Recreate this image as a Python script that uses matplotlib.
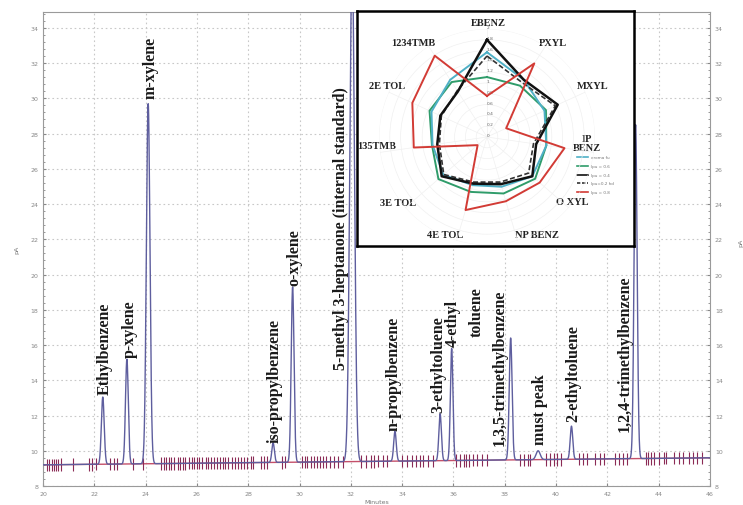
import numpy as np
import matplotlib
matplotlib.use("Agg")
import matplotlib.pyplot as plt
from matplotlib.lines import Line2D

# ---------------------------------------------------------------- chromatogram data
peak_names = ["Ethylbenzene", "p-xylene", "m-xylene", "iso-propylbenzene", "o-xylene",
              "5-methyl 3-heptanone (internal standard)", "n-propylbenzene",
              "3-ethyltoluene", "4-ethyltoluene", "1,3,5-trimethylbenzene",
              "must peak", "2-ethyltoluene", "1,2,4-trimethylbenzene"]
peak_rt = [22.33, 23.27, 24.10, 28.97, 29.73, 32.05, 33.72,
           35.48, 35.93, 38.23, 39.30, 40.60, 43.10]
peak_top = [13.05, 15.2, 29.7, 10.45, 19.3, 38.0, 11.1,
            12.1, 15.8, 16.4, 10.0, 11.4, 28.5]
peak_sigma = [0.055, 0.055, 0.07, 0.05, 0.055, 0.09, 0.05,
              0.05, 0.05, 0.055, 0.08, 0.05, 0.06]

baseline_start, baseline_end = 9.2, 9.6

# integration event marks along the baseline (minutes)
event_marks = [20.15, 20.25, 20.35, 20.42, 20.5, 20.6, 20.7, 21.15, 21.8, 21.9, 22.05,
               22.6, 22.75, 22.9, 23.5, 23.9,
               24.6, 24.7, 24.8, 24.9, 25.0, 25.1, 25.25, 25.35, 25.45, 25.55, 25.7,
               25.8, 25.9, 26.0, 26.1, 26.2, 26.35, 26.45, 26.55, 26.65, 26.8, 26.9,
               27.0, 27.1, 27.2, 27.35, 27.5, 27.6, 27.7, 27.85, 27.95, 28.1, 28.2,
               28.5, 28.6, 28.75, 29.3, 29.45,
               30.1, 30.2, 30.3, 30.45, 30.55, 30.7, 30.8, 30.9, 31.05, 31.2, 31.35,
               31.5, 31.7,
               32.4, 32.6, 32.8, 32.9, 33.05, 33.25, 33.4, 34.0, 34.2, 34.4, 34.55,
               34.7, 34.8, 35.0, 35.2,
               36.1, 36.25, 36.4, 36.5, 36.6, 36.75, 36.9, 37.1, 37.3,
               38.6, 38.75, 38.9, 39.0, 39.6, 39.75, 39.9, 40.05, 40.2, 40.9, 41.05,
               41.2, 41.5, 41.7, 41.85, 42.3, 42.45, 42.6, 42.75,
               43.5, 43.6, 43.7, 43.8, 44.0, 44.2, 44.3, 44.6, 44.8, 44.95, 45.2,
               45.35, 45.5, 45.7]

# label anchors: (x minutes, bottom of text in pA)
label_text = ["Ethylbenzene", "p-xylene", "m-xylene", "iso-propylbenzene", "o-xylene",
              "5-methyl 3-heptanone (internal standard)", "n-propylbenzene",
              "3-ethyltoluene", "4-ethyl", "toluene", "1,3,5-trimethylbenzene",
              "must peak", "2-ethyltoluene", "1,2,4-trimethylbenzene"]
label_x = [22.4, 23.38, 24.2, 29.02, 29.78, 31.6, 33.65,
           35.4, 35.98, 36.92, 37.82, 39.38, 40.66, 42.69]
label_y = [13.2, 15.3, 30.0, 10.5, 19.4, 14.65, 11.2,
           12.2, 15.95, 16.5, 10.3, 10.4, 11.7, 11.1]

# ---------------------------------------------------------------- radar data
radar_axes = ["EBENZ", "PXYL", "MXYL", "IP\nBENZ", "O XYL", "NP BENZ",
              "4E TOL", "3E TOL", "135TMB", "2E TOL", "1234TMB"]
series_cyan = [1.57, 1.26, 1.17, 1.11, 1.11, 0.96, 0.93, 1.07, 1.02, 1.13, 1.26]
series_green = [1.11, 1.13, 1.20, 1.11, 1.18, 1.09, 1.06, 1.19, 1.03, 1.17, 1.21]
series_black = [1.80, 1.26, 1.44, 0.92, 1.11, 0.91, 0.90, 1.11, 0.93, 0.95, 1.00]
series_dashed = [1.50, 1.20, 1.39, 0.87, 1.02, 0.87, 0.87, 1.06, 0.89, 0.93, 1.02]
series_red = [0.76, 1.62, 0.39, 1.45, 1.29, 1.24, 1.41, 0.23, 1.37, 1.52, 1.79]
legend_labels = ["aroma fu", "Ipu = 0.6", "Ipu = 0.4", "Ipu=0.2 hd", "Ipu = 0.8"]

serif = ["Liberation Serif", "DejaVu Serif"]
W, H = 743, 506

fig = plt.figure(figsize=(W / 100, H / 100), dpi=100)

# ---------------------------------------------------------------- main trace
ax = fig.add_axes([43 / W, 1 - 487 / H, (710 - 43) / W, (487 - 13) / H])
x = np.linspace(20, 46, 8000)
base = baseline_start + (baseline_end - baseline_start) * (x - 20) / 26
y = base.copy()
for rt, top, s in zip(peak_rt, peak_top, peak_sigma):
    b0 = baseline_start + (baseline_end - baseline_start) * (rt - 20) / 26
    y += (top - b0) * np.exp(-0.5 * ((x - rt) / s) ** 2)

ax.plot([20, 46], [baseline_start, baseline_end], color="#c4506a", lw=1.0, zorder=2)
ev = np.array(event_marks)
ev_b = baseline_start + (baseline_end - baseline_start) * (ev - 20) / 26
ax.vlines(ev, ev_b - 0.35, ev_b + 0.35, color="#8b2a55", lw=0.8, zorder=3)
ax.plot(x, y, color="#5e5e9e", lw=1.0, zorder=4)

ax.set_xlim(20, 46)
ax.set_ylim(8, 34.9)
ax.set_xticks(np.arange(20, 47, 2))
ax.set_yticks(np.arange(8, 35, 2))
ax.set_yticks(np.arange(8, 35, 0.4), minor=True)
ax.grid(True, which="major", color="#c8c8c8", ls=(0, (1.5, 2.5)), lw=0.8)
ax.tick_params(which="both", direction="in", colors="#888888", labelsize=4.5,
               right=True, labelright=True, length=2)
ax.tick_params(which="minor", length=1.5)
for sp in ax.spines.values():
    sp.set_color("#9a9a9a")
ax.set_xlabel("Minutes", fontsize=4.5, color="#777777", labelpad=2)
ax.set_ylabel("pA", fontsize=4.5, color="#777777", labelpad=8)
fig.text(0.997, 0.52, "pA", fontsize=4.5, color="#777777", rotation=90,
         ha="center", va="center")

for t, lx, ly in zip(label_text, label_x, label_y):
    ax.text(lx, ly, t, rotation=90, ha="center", va="bottom", fontsize=11.5,
            fontweight="bold", family=serif, color="#1a1a1a", zorder=5)

# ---------------------------------------------------------------- inset box
box = fig.add_axes([357 / W, 1 - 247 / H, (634 - 357) / W, (247 - 12) / H])
box.set_xlim(0, 1)
box.set_ylim(0, 1)
box.set_xticks([])
box.set_yticks([])
box.set_facecolor("white")
box.set_zorder(10)
for sp in box.spines.values():
    sp.set_color("black")
    sp.set_linewidth(1.8)

label_pos = [(0.473, 0.953), (0.708, 0.864), (0.852, 0.681), (0.83, 0.44),
             (0.776, 0.191), (0.650, 0.051), (0.318, 0.051), (0.148, 0.187),
             (0.072, 0.426), (0.108, 0.681), (0.202, 0.868)]
for name, (px, py) in zip(radar_axes, label_pos):
    box.text(px, py, name, ha="center", va="center", fontsize=7.5,
             fontweight="bold", family=serif, color="#222222",
             linespacing=1.0, clip_on=True)

# radar plot
rad = fig.add_axes([379 / W, 1 - 246 / H, 216 / W, 216 / H], projection="polar")
rad.set_zorder(11)
rad.patch.set_alpha(0)
rad.set_theta_zero_location("N")
rad.set_theta_direction(-1)
n = len(radar_axes)
theta = np.arange(n) * 2 * np.pi / n
theta_c = np.append(theta, theta[0])

def closed(v):
    return np.append(v, v[0])

rad.plot(theta_c, closed(series_green), color="#2f9c6a", lw=1.4)
rad.plot(theta_c, closed(series_cyan), color="#4fb0c6", lw=1.4)
rad.plot(theta_c, closed(series_dashed), color="#333333", lw=1.2, ls=(0, (3, 1.5)))
rad.plot(theta_c, closed(series_black), color="#111111", lw=1.8)
rad.plot(theta_c, closed(series_red), color="#d23b35", lw=1.4)
rad.set_ylim(0, 2)
rad.set_xticks(theta)
rad.set_xticklabels([])
rad.set_yticks(np.arange(0, 2.01, 0.2))
rad.set_yticklabels(["0", "0.2", "0.4", "0.6", "0.8", "1", "1.2", "1.4", "1.6",
                     "1.8", "2"], fontsize=3.2, color="#666666")
rad.set_rlabel_position(0)
rad.grid(True, color="#f0f0f0", lw=0.5)
rad.spines["polar"].set_visible(False)

# legend
leg_colors = ["#4fb0c6", "#2f9c6a", "#111111", "#333333", "#d23b35"]
leg_styles = ["-", "-", "-", (0, (2, 1)), "-"]
leg_y = [0.379, 0.340, 0.302, 0.268, 0.230]
for c, ls, ly, lab in zip(leg_colors, leg_styles, leg_y, legend_labels):
    box.add_line(Line2D([0.794, 0.834], [ly, ly], color=c, ls=ls, lw=1.2))
    box.text(0.845, ly, lab, fontsize=3.0, color="#777777", va="center")

fig.savefig("out.png", dpi=100)
